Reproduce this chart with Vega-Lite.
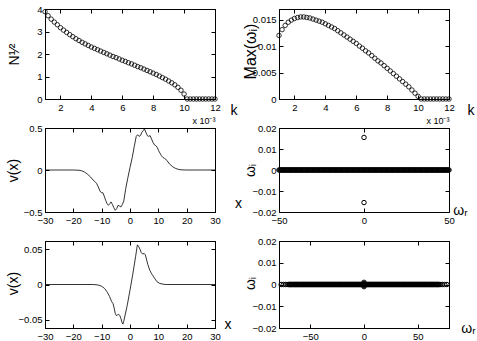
{
"$schema":"https://vega.github.io/schema/vega-lite/v6.json",
"padding":{"left":5,"top":3,"right":0,"bottom":0},
"background":"white",
"columns":2,
"spacing":{"row":29,"column":64},
"bounds":"flush",
"datasets":{
"p1":[{"k":1.0,"n":3.88},{"k":1.2,"n":3.70},{"k":1.4,"n":3.55},{"k":1.6,"n":3.42},{"k":1.8,"n":3.30},{"k":2.0,"n":3.17},{"k":2.2,"n":3.06},{"k":2.4,"n":2.96},{"k":2.6,"n":2.86},{"k":2.8,"n":2.77},{"k":3.0,"n":2.68},{"k":3.2,"n":2.60},{"k":3.4,"n":2.52},{"k":3.6,"n":2.45},{"k":3.8,"n":2.38},{"k":4.0,"n":2.31},{"k":4.2,"n":2.25},{"k":4.4,"n":2.19},{"k":4.6,"n":2.13},{"k":4.8,"n":2.07},{"k":5.0,"n":2.01},{"k":5.2,"n":1.95},{"k":5.4,"n":1.89},{"k":5.6,"n":1.84},{"k":5.8,"n":1.78},{"k":6.0,"n":1.72},{"k":6.2,"n":1.67},{"k":6.4,"n":1.61},{"k":6.6,"n":1.56},{"k":6.8,"n":1.50},{"k":7.0,"n":1.44},{"k":7.2,"n":1.39},{"k":7.4,"n":1.33},{"k":7.6,"n":1.27},{"k":7.8,"n":1.21},{"k":8.0,"n":1.15},{"k":8.2,"n":1.09},{"k":8.4,"n":1.02},{"k":8.6,"n":0.95},{"k":8.8,"n":0.88},{"k":9.0,"n":0.80},{"k":9.2,"n":0.72},{"k":9.4,"n":0.63},{"k":9.6,"n":0.52},{"k":9.8,"n":0.39},{"k":10.0,"n":0.22},{"k":10.2,"n":0},{"k":10.4,"n":0},{"k":10.6,"n":0},{"k":10.8,"n":0},{"k":11.0,"n":0},{"k":11.2,"n":0},{"k":11.4,"n":0},{"k":11.6,"n":0},{"k":11.8,"n":0},{"k":12.0,"n":0}],
"p2":[{"k":1.0,"m":0.0120},{"k":1.2,"m":0.0131},{"k":1.4,"m":0.0139},{"k":1.6,"m":0.0145},{"k":1.8,"m":0.0149},{"k":2.0,"m":0.0152},{"k":2.2,"m":0.0154},{"k":2.4,"m":0.0155},{"k":2.6,"m":0.0155},{"k":2.8,"m":0.0154},{"k":3.0,"m":0.0153},{"k":3.2,"m":0.0151},{"k":3.4,"m":0.0149},{"k":3.6,"m":0.0147},{"k":3.8,"m":0.0145},{"k":4.0,"m":0.0142},{"k":4.2,"m":0.0139},{"k":4.4,"m":0.0136},{"k":4.6,"m":0.0133},{"k":4.8,"m":0.0129},{"k":5.0,"m":0.0125},{"k":5.2,"m":0.0121},{"k":5.4,"m":0.0117},{"k":5.6,"m":0.0113},{"k":5.8,"m":0.0109},{"k":6.0,"m":0.0105},{"k":6.2,"m":0.0100},{"k":6.4,"m":0.0096},{"k":6.6,"m":0.0091},{"k":6.8,"m":0.0087},{"k":7.0,"m":0.0082},{"k":7.2,"m":0.0077},{"k":7.4,"m":0.0072},{"k":7.6,"m":0.0068},{"k":7.8,"m":0.0063},{"k":8.0,"m":0.0058},{"k":8.2,"m":0.0053},{"k":8.4,"m":0.0048},{"k":8.6,"m":0.0043},{"k":8.8,"m":0.0038},{"k":9.0,"m":0.0033},{"k":9.2,"m":0.0028},{"k":9.4,"m":0.0023},{"k":9.6,"m":0.0017},{"k":9.8,"m":0.0011},{"k":10.0,"m":0.0005},{"k":10.2,"m":0},{"k":10.4,"m":0},{"k":10.6,"m":0},{"k":10.8,"m":0},{"k":11.0,"m":0},{"k":11.2,"m":0},{"k":11.4,"m":0},{"k":11.6,"m":0},{"k":11.8,"m":0},{"k":12.0,"m":0}],
"p3":[{"x":-30,"v":0},{"x":-20,"v":0},{"x":-18,"v":-0.003},{"x":-17,"v":-0.01},{"x":-16,"v":-0.025},{"x":-15,"v":-0.05},{"x":-14,"v":-0.08},{"x":-13,"v":-0.12},{"x":-12.3,"v":-0.14},{"x":-11.8,"v":-0.16},{"x":-11.2,"v":-0.2},{"x":-10.6,"v":-0.25},{"x":-10.1,"v":-0.27},{"x":-9.6,"v":-0.27},{"x":-9.1,"v":-0.31},{"x":-8.6,"v":-0.36},{"x":-8.1,"v":-0.40},{"x":-7.6,"v":-0.42},{"x":-7.1,"v":-0.40},{"x":-6.7,"v":-0.38},{"x":-6.2,"v":-0.41},{"x":-5.7,"v":-0.45},{"x":-5.2,"v":-0.48},{"x":-4.7,"v":-0.46},{"x":-4.2,"v":-0.42},{"x":-3.7,"v":-0.43},{"x":-3.2,"v":-0.44},{"x":-2.7,"v":-0.41},{"x":-2.2,"v":-0.37},{"x":-1.5,"v":-0.22},{"x":-0.8,"v":-0.10},{"x":0,"v":0.03},{"x":0.8,"v":0.15},{"x":1.5,"v":0.28},{"x":2.2,"v":0.40},{"x":2.7,"v":0.42},{"x":3.2,"v":0.40},{"x":3.7,"v":0.41},{"x":4.2,"v":0.45},{"x":4.7,"v":0.47},{"x":5.1,"v":0.49},{"x":5.6,"v":0.45},{"x":6.1,"v":0.41},{"x":6.6,"v":0.40},{"x":7.1,"v":0.41},{"x":7.6,"v":0.37},{"x":8.1,"v":0.33},{"x":8.6,"v":0.30},{"x":9.1,"v":0.29},{"x":9.6,"v":0.27},{"x":10.1,"v":0.23},{"x":10.6,"v":0.20},{"x":11.1,"v":0.17},{"x":11.6,"v":0.15},{"x":12.1,"v":0.14},{"x":12.6,"v":0.13},{"x":13.1,"v":0.11},{"x":14,"v":0.07},{"x":15,"v":0.04},{"x":16,"v":0.02},{"x":17,"v":0.008},{"x":18,"v":0.002},{"x":20,"v":0},{"x":30,"v":0}],
"p5":[{"x":-30,"v":0},{"x":-13,"v":0},{"x":-12,"v":-0.0003},{"x":-11,"v":-0.001},{"x":-10,"v":-0.0025},{"x":-9,"v":-0.0055},{"x":-8,"v":-0.011},{"x":-7.2,"v":-0.017},{"x":-6.5,"v":-0.024},{"x":-6,"v":-0.027},{"x":-5.6,"v":-0.033},{"x":-5.2,"v":-0.041},{"x":-4.8,"v":-0.044},{"x":-4.4,"v":-0.043},{"x":-4.0,"v":-0.042},{"x":-3.6,"v":-0.044},{"x":-3.2,"v":-0.048},{"x":-2.8,"v":-0.054},{"x":-2.5,"v":-0.056},{"x":-2.2,"v":-0.052},{"x":-1,"v":-0.030},{"x":0,"v":-0.008},{"x":1,"v":0.015},{"x":2,"v":0.040},{"x":2.6,"v":0.056},{"x":3.0,"v":0.054},{"x":3.5,"v":0.050},{"x":4.0,"v":0.045},{"x":4.5,"v":0.043},{"x":5.0,"v":0.044},{"x":5.4,"v":0.042},{"x":5.8,"v":0.036},{"x":6.3,"v":0.028},{"x":7,"v":0.020},{"x":7.5,"v":0.016},{"x":8,"v":0.013},{"x":8.8,"v":0.008},{"x":9.5,"v":0.004},{"x":10.5,"v":0.0015},{"x":12,"v":0.0002},{"x":13,"v":0},{"x":30,"v":0}],
"p4":[{"r":0,"i":0.0155},{"r":0,"i":-0.0155},
{"r":-50,"i":0},{"r":-49.5,"i":0},{"r":-49,"i":0},{"r":-48.5,"i":0},{"r":-48,"i":0},{"r":-47.5,"i":0},{"r":-47,"i":0},{"r":-46.5,"i":0},{"r":-46,"i":0},{"r":-45.5,"i":0},
{"r":-45,"i":0},{"r":-44.5,"i":0},{"r":-44,"i":0},{"r":-43.5,"i":0},{"r":-43,"i":0},{"r":-42.5,"i":0},{"r":-42,"i":0},{"r":-41.5,"i":0},{"r":-41,"i":0},{"r":-40.5,"i":0},
{"r":-40,"i":0},{"r":-39.5,"i":0},{"r":-39,"i":0},{"r":-38.5,"i":0},{"r":-38,"i":0},{"r":-37.5,"i":0},{"r":-37,"i":0},{"r":-36.5,"i":0},{"r":-36,"i":0},{"r":-35.5,"i":0},
{"r":-35,"i":0},{"r":-34.5,"i":0},{"r":-34,"i":0},{"r":-33.5,"i":0},{"r":-33,"i":0},{"r":-32.5,"i":0},{"r":-32,"i":0},{"r":-31.5,"i":0},{"r":-31,"i":0},{"r":-30.5,"i":0},
{"r":-30,"i":0},{"r":-29.5,"i":0},{"r":-29,"i":0},{"r":-28.5,"i":0},{"r":-28,"i":0},{"r":-27.5,"i":0},{"r":-27,"i":0},{"r":-26.5,"i":0},{"r":-26,"i":0},{"r":-25.5,"i":0},
{"r":-25,"i":0},{"r":-24.5,"i":0},{"r":-24,"i":0},{"r":-23.5,"i":0},{"r":-23,"i":0},{"r":-22.5,"i":0},{"r":-22,"i":0},{"r":-21.5,"i":0},{"r":-21,"i":0},{"r":-20.5,"i":0},
{"r":-20,"i":0},{"r":-19.5,"i":0},{"r":-19,"i":0},{"r":-18.5,"i":0},{"r":-18,"i":0},{"r":-17.5,"i":0},{"r":-17,"i":0},{"r":-16.5,"i":0},{"r":-16,"i":0},{"r":-15.5,"i":0},
{"r":-15,"i":0},{"r":-14.5,"i":0},{"r":-14,"i":0},{"r":-13.5,"i":0},{"r":-13,"i":0},{"r":-12.5,"i":0},{"r":-12,"i":0},{"r":-11.5,"i":0},{"r":-11,"i":0},{"r":-10.5,"i":0},
{"r":-10,"i":0},{"r":-9.5,"i":0},{"r":-9,"i":0},{"r":-8.5,"i":0},{"r":-8,"i":0},{"r":-7.5,"i":0},{"r":-7,"i":0},{"r":-6.5,"i":0},{"r":-6,"i":0},{"r":-5.5,"i":0},
{"r":-5,"i":0},{"r":-4.5,"i":0},{"r":-4,"i":0},{"r":-3.5,"i":0},{"r":-3,"i":0},{"r":-2.5,"i":0},{"r":-2,"i":0},{"r":-1.5,"i":0},{"r":-1,"i":0},{"r":-0.5,"i":0},
{"r":0,"i":0},{"r":0.5,"i":0},{"r":1,"i":0},{"r":1.5,"i":0},{"r":2,"i":0},{"r":2.5,"i":0},{"r":3,"i":0},{"r":3.5,"i":0},{"r":4,"i":0},{"r":4.5,"i":0},
{"r":5,"i":0},{"r":5.5,"i":0},{"r":6,"i":0},{"r":6.5,"i":0},{"r":7,"i":0},{"r":7.5,"i":0},{"r":8,"i":0},{"r":8.5,"i":0},{"r":9,"i":0},{"r":9.5,"i":0},
{"r":10,"i":0},{"r":10.5,"i":0},{"r":11,"i":0},{"r":11.5,"i":0},{"r":12,"i":0},{"r":12.5,"i":0},{"r":13,"i":0},{"r":13.5,"i":0},{"r":14,"i":0},{"r":14.5,"i":0},
{"r":15,"i":0},{"r":15.5,"i":0},{"r":16,"i":0},{"r":16.5,"i":0},{"r":17,"i":0},{"r":17.5,"i":0},{"r":18,"i":0},{"r":18.5,"i":0},{"r":19,"i":0},{"r":19.5,"i":0},
{"r":20,"i":0},{"r":20.5,"i":0},{"r":21,"i":0},{"r":21.5,"i":0},{"r":22,"i":0},{"r":22.5,"i":0},{"r":23,"i":0},{"r":23.5,"i":0},{"r":24,"i":0},{"r":24.5,"i":0},
{"r":25,"i":0},{"r":25.5,"i":0},{"r":26,"i":0},{"r":26.5,"i":0},{"r":27,"i":0},{"r":27.5,"i":0},{"r":28,"i":0},{"r":28.5,"i":0},{"r":29,"i":0},{"r":29.5,"i":0},
{"r":30,"i":0},{"r":30.5,"i":0},{"r":31,"i":0},{"r":31.5,"i":0},{"r":32,"i":0},{"r":32.5,"i":0},{"r":33,"i":0},{"r":33.5,"i":0},{"r":34,"i":0},{"r":34.5,"i":0},
{"r":35,"i":0},{"r":35.5,"i":0},{"r":36,"i":0},{"r":36.5,"i":0},{"r":37,"i":0},{"r":37.5,"i":0},{"r":38,"i":0},{"r":38.5,"i":0},{"r":39,"i":0},{"r":39.5,"i":0},
{"r":40,"i":0},{"r":40.5,"i":0},{"r":41,"i":0},{"r":41.5,"i":0},{"r":42,"i":0},{"r":42.5,"i":0},{"r":43,"i":0},{"r":43.5,"i":0},{"r":44,"i":0},{"r":44.5,"i":0},
{"r":45,"i":0},{"r":45.5,"i":0},{"r":46,"i":0},{"r":46.5,"i":0},{"r":47,"i":0},{"r":47.5,"i":0},{"r":48,"i":0},{"r":48.5,"i":0},{"r":49,"i":0},{"r":49.5,"i":0},{"r":50,"i":0}],
"p6":[{"r":0,"i":0.001},{"r":0,"i":-0.001},{"r":0,"i":0.0005},{"r":0,"i":-0.0005},
{"r":-77,"i":0},{"r":-75,"i":0},{"r":-73,"i":0},{"r":-71.5,"i":0},
{"r":-70,"i":0},{"r":-69.5,"i":0},{"r":-69,"i":0},{"r":-68.5,"i":0},{"r":-68,"i":0},{"r":-67.5,"i":0},{"r":-67,"i":0},{"r":-66.5,"i":0},{"r":-66,"i":0},{"r":-65.5,"i":0},
{"r":-65,"i":0},{"r":-64.5,"i":0},{"r":-64,"i":0},{"r":-63.5,"i":0},{"r":-63,"i":0},{"r":-62.5,"i":0},{"r":-62,"i":0},{"r":-61.5,"i":0},{"r":-61,"i":0},{"r":-60.5,"i":0},
{"r":-60,"i":0},{"r":-59.5,"i":0},{"r":-59,"i":0},{"r":-58.5,"i":0},{"r":-58,"i":0},{"r":-57.5,"i":0},{"r":-57,"i":0},{"r":-56.5,"i":0},{"r":-56,"i":0},{"r":-55.5,"i":0},
{"r":-55,"i":0},{"r":-54.5,"i":0},{"r":-54,"i":0},{"r":-53.5,"i":0},{"r":-53,"i":0},{"r":-52.5,"i":0},{"r":-52,"i":0},{"r":-51.5,"i":0},{"r":-51,"i":0},{"r":-50.5,"i":0},
{"r":-50,"i":0},{"r":-49.5,"i":0},{"r":-49,"i":0},{"r":-48.5,"i":0},{"r":-48,"i":0},{"r":-47.5,"i":0},{"r":-47,"i":0},{"r":-46.5,"i":0},{"r":-46,"i":0},{"r":-45.5,"i":0},
{"r":-45,"i":0},{"r":-44.5,"i":0},{"r":-44,"i":0},{"r":-43.5,"i":0},{"r":-43,"i":0},{"r":-42.5,"i":0},{"r":-42,"i":0},{"r":-41.5,"i":0},{"r":-41,"i":0},{"r":-40.5,"i":0},
{"r":-40,"i":0},{"r":-39.5,"i":0},{"r":-39,"i":0},{"r":-38.5,"i":0},{"r":-38,"i":0},{"r":-37.5,"i":0},{"r":-37,"i":0},{"r":-36.5,"i":0},{"r":-36,"i":0},{"r":-35.5,"i":0},
{"r":-35,"i":0},{"r":-34.5,"i":0},{"r":-34,"i":0},{"r":-33.5,"i":0},{"r":-33,"i":0},{"r":-32.5,"i":0},{"r":-32,"i":0},{"r":-31.5,"i":0},{"r":-31,"i":0},{"r":-30.5,"i":0},
{"r":-30,"i":0},{"r":-29.5,"i":0},{"r":-29,"i":0},{"r":-28.5,"i":0},{"r":-28,"i":0},{"r":-27.5,"i":0},{"r":-27,"i":0},{"r":-26.5,"i":0},{"r":-26,"i":0},{"r":-25.5,"i":0},
{"r":-25,"i":0},{"r":-24.5,"i":0},{"r":-24,"i":0},{"r":-23.5,"i":0},{"r":-23,"i":0},{"r":-22.5,"i":0},{"r":-22,"i":0},{"r":-21.5,"i":0},{"r":-21,"i":0},{"r":-20.5,"i":0},
{"r":-20,"i":0},{"r":-19.5,"i":0},{"r":-19,"i":0},{"r":-18.5,"i":0},{"r":-18,"i":0},{"r":-17.5,"i":0},{"r":-17,"i":0},{"r":-16.5,"i":0},{"r":-16,"i":0},{"r":-15.5,"i":0},
{"r":-15,"i":0},{"r":-14.5,"i":0},{"r":-14,"i":0},{"r":-13.5,"i":0},{"r":-13,"i":0},{"r":-12.5,"i":0},{"r":-12,"i":0},{"r":-11.5,"i":0},{"r":-11,"i":0},{"r":-10.5,"i":0},
{"r":-10,"i":0},{"r":-9.5,"i":0},{"r":-9,"i":0},{"r":-8.5,"i":0},{"r":-8,"i":0},{"r":-7.5,"i":0},{"r":-7,"i":0},{"r":-6.5,"i":0},{"r":-6,"i":0},{"r":-5.5,"i":0},
{"r":-5,"i":0},{"r":-4.5,"i":0},{"r":-4,"i":0},{"r":-3.5,"i":0},{"r":-3,"i":0},{"r":-2.5,"i":0},{"r":-2,"i":0},{"r":-1.5,"i":0},{"r":-1,"i":0},{"r":-0.5,"i":0},
{"r":0,"i":0},{"r":0.5,"i":0},{"r":1,"i":0},{"r":1.5,"i":0},{"r":2,"i":0},{"r":2.5,"i":0},{"r":3,"i":0},{"r":3.5,"i":0},{"r":4,"i":0},{"r":4.5,"i":0},
{"r":5,"i":0},{"r":5.5,"i":0},{"r":6,"i":0},{"r":6.5,"i":0},{"r":7,"i":0},{"r":7.5,"i":0},{"r":8,"i":0},{"r":8.5,"i":0},{"r":9,"i":0},{"r":9.5,"i":0},
{"r":10,"i":0},{"r":10.5,"i":0},{"r":11,"i":0},{"r":11.5,"i":0},{"r":12,"i":0},{"r":12.5,"i":0},{"r":13,"i":0},{"r":13.5,"i":0},{"r":14,"i":0},{"r":14.5,"i":0},
{"r":15,"i":0},{"r":15.5,"i":0},{"r":16,"i":0},{"r":16.5,"i":0},{"r":17,"i":0},{"r":17.5,"i":0},{"r":18,"i":0},{"r":18.5,"i":0},{"r":19,"i":0},{"r":19.5,"i":0},
{"r":20,"i":0},{"r":20.5,"i":0},{"r":21,"i":0},{"r":21.5,"i":0},{"r":22,"i":0},{"r":22.5,"i":0},{"r":23,"i":0},{"r":23.5,"i":0},{"r":24,"i":0},{"r":24.5,"i":0},
{"r":25,"i":0},{"r":25.5,"i":0},{"r":26,"i":0},{"r":26.5,"i":0},{"r":27,"i":0},{"r":27.5,"i":0},{"r":28,"i":0},{"r":28.5,"i":0},{"r":29,"i":0},{"r":29.5,"i":0},
{"r":30,"i":0},{"r":30.5,"i":0},{"r":31,"i":0},{"r":31.5,"i":0},{"r":32,"i":0},{"r":32.5,"i":0},{"r":33,"i":0},{"r":33.5,"i":0},{"r":34,"i":0},{"r":34.5,"i":0},
{"r":35,"i":0},{"r":35.5,"i":0},{"r":36,"i":0},{"r":36.5,"i":0},{"r":37,"i":0},{"r":37.5,"i":0},{"r":38,"i":0},{"r":38.5,"i":0},{"r":39,"i":0},{"r":39.5,"i":0},
{"r":40,"i":0},{"r":40.5,"i":0},{"r":41,"i":0},{"r":41.5,"i":0},{"r":42,"i":0},{"r":42.5,"i":0},{"r":43,"i":0},{"r":43.5,"i":0},{"r":44,"i":0},{"r":44.5,"i":0},
{"r":45,"i":0},{"r":45.5,"i":0},{"r":46,"i":0},{"r":46.5,"i":0},{"r":47,"i":0},{"r":47.5,"i":0},{"r":48,"i":0},{"r":48.5,"i":0},{"r":49,"i":0},{"r":49.5,"i":0},
{"r":50,"i":0},{"r":50.5,"i":0},{"r":51,"i":0},{"r":51.5,"i":0},{"r":52,"i":0},{"r":52.5,"i":0},{"r":53,"i":0},{"r":53.5,"i":0},{"r":54,"i":0},{"r":54.5,"i":0},
{"r":55,"i":0},{"r":55.5,"i":0},{"r":56,"i":0},{"r":56.5,"i":0},{"r":57,"i":0},{"r":57.5,"i":0},{"r":58,"i":0},{"r":58.5,"i":0},{"r":59,"i":0},{"r":59.5,"i":0},
{"r":60,"i":0},{"r":60.5,"i":0},{"r":61,"i":0},{"r":61.5,"i":0},{"r":62,"i":0},{"r":62.5,"i":0},{"r":63,"i":0},{"r":63.5,"i":0},{"r":64,"i":0},{"r":64.5,"i":0},
{"r":65,"i":0},{"r":65.5,"i":0},{"r":66,"i":0},{"r":66.5,"i":0},{"r":67,"i":0},{"r":67.5,"i":0},{"r":68,"i":0},{"r":68.5,"i":0},{"r":69,"i":0},{"r":69.5,"i":0},
{"r":70,"i":0},{"r":71.5,"i":0},{"r":73,"i":0},{"r":75,"i":0},{"r":77,"i":0}]
},
"concat":[
{"width":170,"height":90,"resolve":{"axis":{"x":"independent","y":"independent"}},
 "layer":[
  {"data":{"name":"p1"},"mark":{"type":"point","shape":"circle","filled":false,"color":"black","strokeWidth":0.8,"size":20,"opacity":1},
   "encoding":{
    "x":{"field":"k","type":"quantitative","scale":{"domain":[1,12],"nice":false,"zero":false},"axis":{"orient":"bottom","values":[2,4,6,8,10,12],"format":"d","title":"k","titleX":188.5,"titleY":11,"titleAlign":"center","titleBaseline":"middle","titleAngle":0}},
    "y":{"field":"n","type":"quantitative","scale":{"domain":[0,4],"nice":false,"zero":false},"axis":{"orient":"left","values":[0,1,2,3,4],"format":"d","title":"N\u00b9\u2044\u00b2","titleX":-31,"titleY":45,"titleAlign":"center","titleBaseline":"middle","titleAngle":-90}}}},
  {"data":{"name":"p1"},"mark":{"type":"point","opacity":0},
   "encoding":{
    "x":{"field":"k","type":"quantitative","scale":{"domain":[1,12],"nice":false,"zero":false},"axis":{"orient":"top","values":[2,4,6,8,10,12],"labels":false,"title":"x 10\u207b\u00b3","titleFontSize":9,"titleX":170,"titleY":114,"titleAlign":"right","titleBaseline":"alphabetic","titleAngle":0}},
    "y":{"field":"n","type":"quantitative","scale":{"domain":[0,4],"nice":false,"zero":false},"axis":{"orient":"right","values":[0,1,2,3,4],"labels":false,"title":null}}}}
 ]},
{"width":170,"height":90,"resolve":{"axis":{"x":"independent","y":"independent"}},
 "layer":[
  {"data":{"name":"p2"},"mark":{"type":"point","shape":"circle","filled":false,"color":"black","strokeWidth":0.8,"size":20,"opacity":1},
   "encoding":{
    "x":{"field":"k","type":"quantitative","scale":{"domain":[1,12],"nice":false,"zero":false},"axis":{"orient":"bottom","values":[2,4,6,8,10,12],"format":"d","title":"k","titleX":191.5,"titleY":11,"titleAlign":"center","titleBaseline":"middle","titleAngle":0}},
    "y":{"field":"m","type":"quantitative","scale":{"domain":[0,0.017],"nice":false,"zero":false},"axis":{"orient":"left","values":[0,0.005,0.01,0.015],"format":".3~f","title":"Max(\u03c9\u1d62)","titleFontSize":16,"titleX":-29,"titleY":42,"titleAlign":"center","titleBaseline":"middle","titleAngle":-90}}}},
  {"data":{"name":"p2"},"mark":{"type":"point","opacity":0},
   "encoding":{
    "x":{"field":"k","type":"quantitative","scale":{"domain":[1,12],"nice":false,"zero":false},"axis":{"orient":"top","values":[2,4,6,8,10,12],"labels":false,"title":"x 10\u207b\u00b3","titleFontSize":9,"titleX":170,"titleY":114,"titleAlign":"right","titleBaseline":"alphabetic","titleAngle":0}},
    "y":{"field":"m","type":"quantitative","scale":{"domain":[0,0.017],"nice":false,"zero":false},"axis":{"orient":"right","values":[0,0.005,0.01,0.015],"labels":false,"title":null}}}}
 ]},
{"width":170,"height":84,"resolve":{"axis":{"x":"independent","y":"independent"}},
 "layer":[
  {"data":{"name":"p3"},"mark":{"type":"line","color":"black","strokeWidth":0.8},
   "encoding":{
    "x":{"field":"x","type":"quantitative","scale":{"domain":[-30,30],"nice":false,"zero":false},"axis":{"orient":"bottom","values":[-30,-20,-10,0,10,20,30],"format":"d","title":"x","titleX":193,"titleY":-9,"titleAlign":"center","titleBaseline":"middle","titleAngle":0}},
    "y":{"field":"v","type":"quantitative","scale":{"domain":[-0.5,0.5],"nice":false,"zero":false},"axis":{"orient":"left","values":[-0.5,0,0.5],"format":".1~f","title":"v(x)","titleX":-32,"titleY":42,"titleAlign":"center","titleBaseline":"middle","titleAngle":-90}}}},
  {"data":{"name":"p3"},"mark":{"type":"point","opacity":0},
   "encoding":{
    "x":{"field":"x","type":"quantitative","scale":{"domain":[-30,30],"nice":false,"zero":false},"axis":{"orient":"top","values":[-30,-20,-10,0,10,20,30],"labels":false,"title":null}},
    "y":{"field":"v","type":"quantitative","scale":{"domain":[-0.5,0.5],"nice":false,"zero":false},"axis":{"orient":"right","values":[-0.5,0,0.5],"labels":false,"title":null}}}}
 ]},
{"width":170,"height":84,"resolve":{"axis":{"x":"independent","y":"independent"}},
 "layer":[
  {"data":{"name":"p4"},"mark":{"type":"point","shape":"circle","filled":false,"color":"black","strokeWidth":1,"size":20,"opacity":1},
   "encoding":{
    "x":{"field":"r","type":"quantitative","scale":{"domain":[-50,50],"nice":false,"zero":false},"axis":{"orient":"bottom","values":[-50,0,50],"format":"d","title":"\u03c9\u1d63","titleX":181,"titleY":-2,"titleAlign":"center","titleBaseline":"middle","titleAngle":0}},
    "y":{"field":"i","type":"quantitative","scale":{"domain":[-0.02,0.02],"nice":false,"zero":false},"axis":{"orient":"left","values":[-0.02,-0.01,0,0.01,0.02],"format":".2~f","title":"\u03c9\u1d62","titleX":-29,"titleY":42,"titleAlign":"center","titleBaseline":"middle","titleAngle":-90}}}},
  {"data":{"name":"p4"},"mark":{"type":"point","opacity":0},
   "encoding":{
    "x":{"field":"r","type":"quantitative","scale":{"domain":[-50,50],"nice":false,"zero":false},"axis":{"orient":"top","values":[-50,0,50],"labels":false,"title":null}},
    "y":{"field":"i","type":"quantitative","scale":{"domain":[-0.02,0.02],"nice":false,"zero":false},"axis":{"orient":"right","values":[-0.02,-0.01,0,0.01,0.02],"labels":false,"title":null}}}}
 ]},
{"width":170,"height":87,"resolve":{"axis":{"x":"independent","y":"independent"}},
 "layer":[
  {"data":{"name":"p5"},"mark":{"type":"line","color":"black","strokeWidth":0.8},
   "encoding":{
    "x":{"field":"x","type":"quantitative","scale":{"domain":[-30,30],"nice":false,"zero":false},"axis":{"orient":"bottom","values":[-30,-20,-10,0,10,20,30],"format":"d","title":"x","titleX":182.5,"titleY":-4,"titleAlign":"center","titleBaseline":"middle","titleAngle":0}},
    "y":{"field":"v","type":"quantitative","scale":{"domain":[-0.0615,0.0615],"nice":false,"zero":false},"axis":{"orient":"left","values":[-0.05,0,0.05],"format":".2~f","title":"v(x)","titleX":-32,"titleY":42,"titleAlign":"center","titleBaseline":"middle","titleAngle":-90}}}},
  {"data":{"name":"p5"},"mark":{"type":"point","opacity":0},
   "encoding":{
    "x":{"field":"x","type":"quantitative","scale":{"domain":[-30,30],"nice":false,"zero":false},"axis":{"orient":"top","values":[-30,-20,-10,0,10,20,30],"labels":false,"title":null}},
    "y":{"field":"v","type":"quantitative","scale":{"domain":[-0.0615,0.0615],"nice":false,"zero":false},"axis":{"orient":"right","values":[-0.05,0,0.05],"labels":false,"title":null}}}}
 ]},
{"width":170,"height":87,"resolve":{"axis":{"x":"independent","y":"independent"}},
 "layer":[
  {"data":{"name":"p6"},"mark":{"type":"point","shape":"circle","filled":false,"color":"black","strokeWidth":1,"size":20,"opacity":1},
   "encoding":{
    "x":{"field":"r","type":"quantitative","scale":{"domain":[-79,79],"nice":false,"zero":false},"axis":{"orient":"bottom","values":[-50,0,50],"format":"d","title":"\u03c9\u1d63","titleX":189,"titleY":0,"titleAlign":"center","titleBaseline":"middle","titleAngle":0}},
    "y":{"field":"i","type":"quantitative","scale":{"domain":[-0.02,0.02],"nice":false,"zero":false},"axis":{"orient":"left","values":[-0.02,-0.01,0,0.01,0.02],"format":".2~f","title":"\u03c9\u1d62","titleX":-29,"titleY":42,"titleAlign":"center","titleBaseline":"middle","titleAngle":-90}}}},
  {"data":{"name":"p6"},"mark":{"type":"point","opacity":0},
   "encoding":{
    "x":{"field":"r","type":"quantitative","scale":{"domain":[-79,79],"nice":false,"zero":false},"axis":{"orient":"top","values":[-50,0,50],"labels":false,"title":null}},
    "y":{"field":"i","type":"quantitative","scale":{"domain":[-0.02,0.02],"nice":false,"zero":false},"axis":{"orient":"right","values":[-0.02,-0.01,0,0.01,0.02],"labels":false,"title":null}}}}
 ]}
],
"config":{"font":"Liberation Sans","view":{"stroke":"black","strokeWidth":1},
 "axis":{"grid":false,"domainColor":"black","domainWidth":1,"tickColor":"black","tickSize":-4,"tickWidth":1,"labelPadding":7,"labelFontSize":9.5,"labelColor":"black","labelFont":"Liberation Sans","labelFlush":false,"labelOverlap":false,"titleFont":"Liberation Sans","titleFontSize":14,"titleFontWeight":"normal","titleColor":"black","titlePadding":0}}
}
